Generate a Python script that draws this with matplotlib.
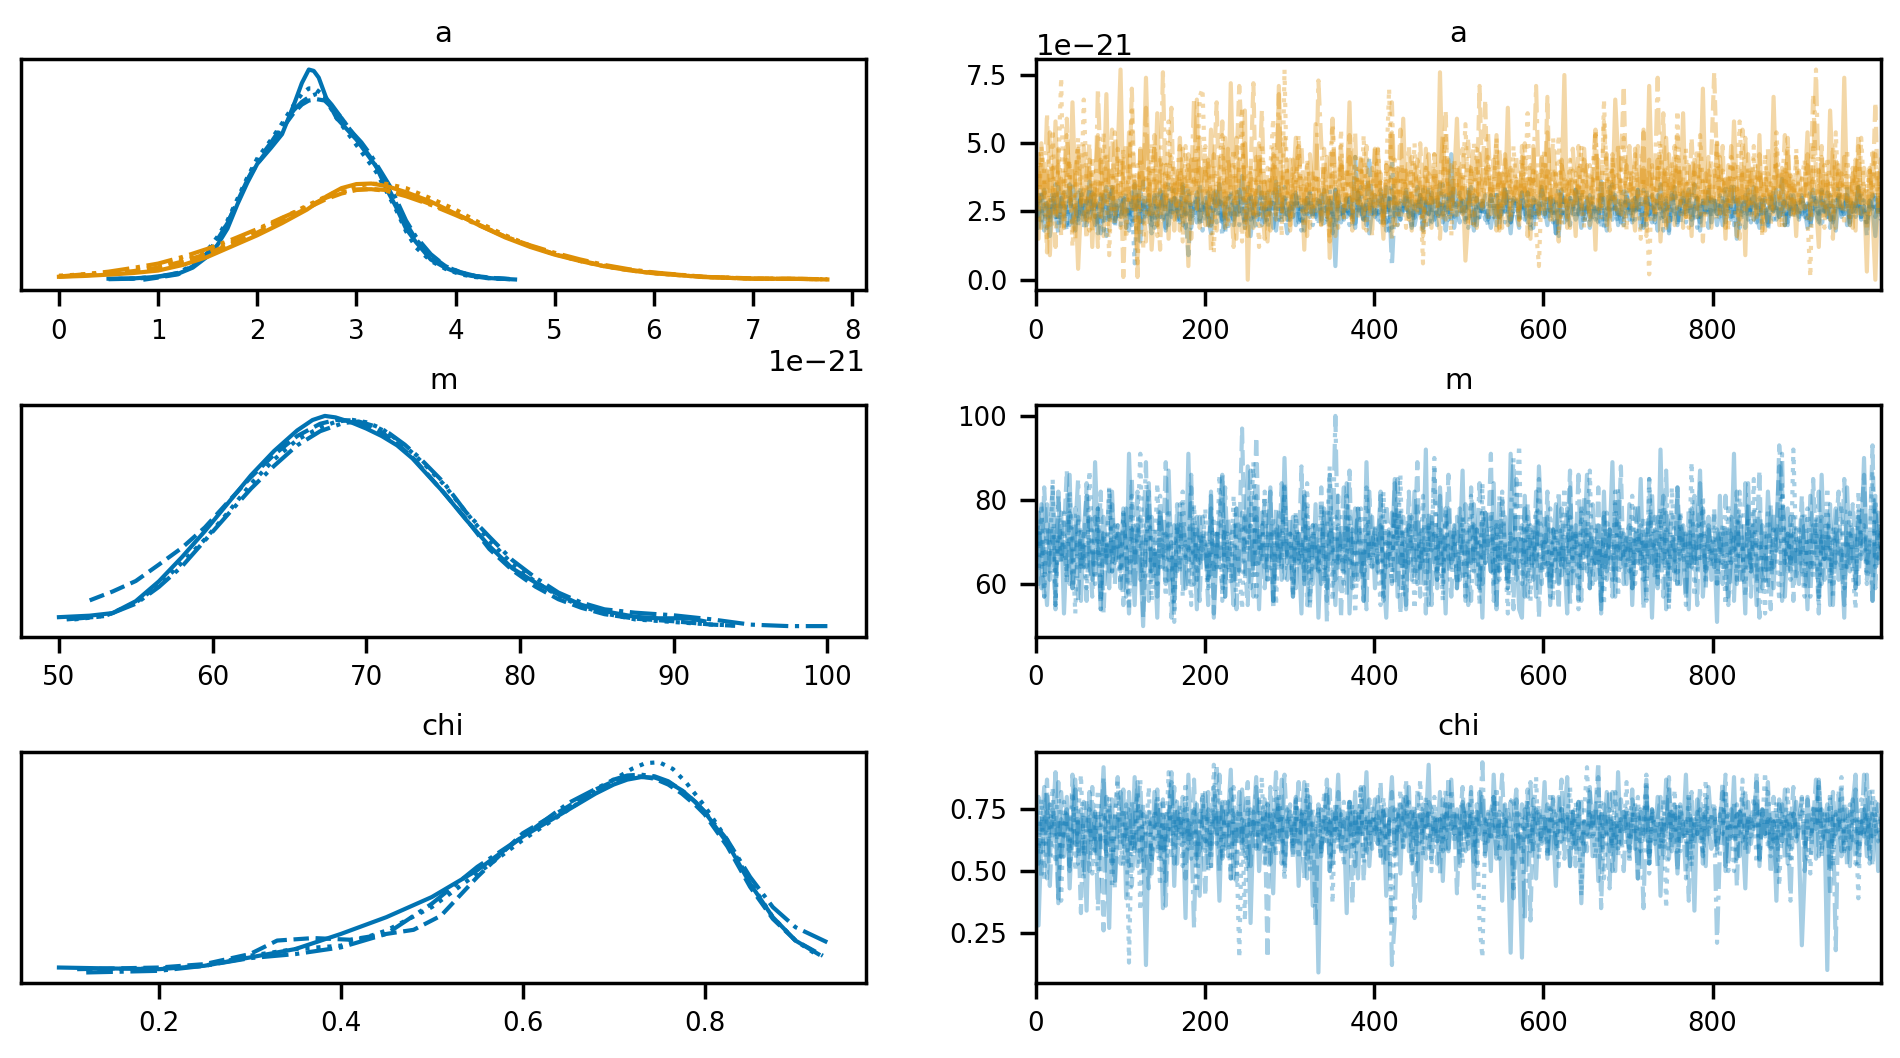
import numpy as np
import matplotlib
matplotlib.use("Agg")
import matplotlib.pyplot as plt

BLUE = "#0173b2"
ORANGE = "#de8f05"
LINESTYLES = ["-", "--", ":", "-."]
UNIT_A = 1e-21        # KDE x values of "a" are in units of 1e-21
UNIT_A_TRACE = 1e-22  # trace values of "a" are in units of 1e-22
UNIT_CHI_TRACE = 0.01 # trace values of "chi" are in hundredths

var_names = ["a", "m", "chi"]
n_draws = 1000

# ---------------- KDE curves (per chain) ----------------
a0_kde_x = [
    [0.5,0.75,1.0,1.2,1.35,1.5,1.6,1.7,1.8,1.9,2.0,2.14,2.25,2.37,2.45,2.52,2.57,2.62,2.7,2.8,2.9,3.0,3.1,3.2,3.3,3.4,3.5,3.6,3.75,3.9,4.0,4.15,4.3,4.6],
    [0.85,1.0,1.2,1.35,1.5,1.6,1.7,1.8,1.9,2.0,2.14,2.25,2.37,2.45,2.52,2.6,2.68,2.75,2.85,2.95,3.05,3.15,3.25,3.35,3.5,3.6,3.75,3.9,4.05,4.2,4.4,4.6],
    [0.6,0.8,1.0,1.2,1.35,1.5,1.6,1.7,1.8,1.9,2.0,2.14,2.25,2.37,2.45,2.52,2.58,2.65,2.72,2.8,2.9,3.0,3.1,3.2,3.3,3.4,3.5,3.6,3.75,3.9,4.05,4.2,4.35,4.5],
    [0.5,0.75,1.0,1.2,1.35,1.5,1.6,1.7,1.8,1.9,2.0,2.14,2.25,2.37,2.45,2.53,2.6,2.68,2.75,2.85,2.95,3.05,3.15,3.25,3.35,3.5,3.6,3.75,3.9,4.05,4.2,4.35,4.55],
]
a0_kde_y = [
    [0.004,0.005,0.011,0.022,0.045,0.087,0.13,0.19,0.28,0.36,0.43,0.49,0.54,0.65,0.73,0.78,0.775,0.75,0.67,0.60,0.56,0.52,0.47,0.42,0.34,0.27,0.19,0.14,0.075,0.044,0.029,0.015,0.007,0.001],
    [0.0,0.008,0.02,0.05,0.10,0.15,0.21,0.29,0.37,0.43,0.50,0.56,0.62,0.65,0.665,0.67,0.665,0.64,0.60,0.55,0.50,0.45,0.39,0.32,0.21,0.15,0.09,0.05,0.027,0.014,0.006,0.002],
    [0.003,0.005,0.01,0.025,0.055,0.11,0.16,0.22,0.30,0.38,0.45,0.52,0.58,0.65,0.69,0.71,0.71,0.69,0.65,0.60,0.55,0.50,0.45,0.40,0.33,0.26,0.18,0.12,0.07,0.04,0.02,0.01,0.005,0.002],
    [0.002,0.004,0.012,0.025,0.05,0.10,0.15,0.21,0.29,0.37,0.44,0.51,0.57,0.63,0.66,0.68,0.69,0.68,0.65,0.60,0.55,0.51,0.46,0.40,0.34,0.22,0.16,0.095,0.05,0.028,0.014,0.006,0.002],
]
a1_kde_x_grid = [0,0.25,0.5,0.75,1,1.25,1.5,1.75,2,2.25,2.5,2.7,2.85,3.0,3.15,3.3,3.5,3.75,4,4.25,4.5,4.75,5,5.25,5.5,5.75,6,6.5,7,7.5]
a1_kde_x_end = [7.75, 7.7, 7.7, 7.75]
a1_kde_y = [
    [0.011,0.014,0.019,0.025,0.034,0.055,0.085,0.125,0.165,0.21,0.26,0.31,0.34,0.355,0.357,0.348,0.325,0.29,0.245,0.2,0.157,0.122,0.093,0.07,0.05,0.035,0.024,0.01,0.004,0.003,0.001],
    [0.012,0.016,0.022,0.032,0.045,0.068,0.097,0.135,0.175,0.22,0.265,0.30,0.32,0.333,0.337,0.333,0.315,0.28,0.245,0.202,0.16,0.125,0.095,0.072,0.052,0.037,0.026,0.011,0.005,0.003,0.002],
    [0.015,0.02,0.026,0.036,0.05,0.074,0.103,0.14,0.182,0.228,0.275,0.31,0.335,0.348,0.356,0.356,0.34,0.302,0.26,0.21,0.165,0.127,0.095,0.07,0.05,0.035,0.024,0.01,0.004,0.003,0.002],
    [0.012,0.02,0.03,0.044,0.06,0.085,0.115,0.15,0.188,0.23,0.27,0.305,0.325,0.335,0.336,0.33,0.31,0.278,0.24,0.2,0.16,0.128,0.1,0.076,0.055,0.039,0.027,0.011,0.004,0.003,0.002],
]
m_kde_x = [
    [50,52,53.5,55,56.5,58,59.5,61,62.5,64,65.5,66.5,67.3,68,69,70,71,72,73,74,75,76.5,78,79.5,81,82.5,84,85.5,87.5,89,90,91,92],
    [52,53.5,55,56.5,58,59.5,61,62.5,64,65.5,67,68,69,70,71,72,73,74,75,76.5,78,79.5,81,82.5,84,85.5,87.5,90,92.5,94],
    [51,53,55,56.5,58,59.5,61,62.5,64,65.5,67,68,69,70,71,72,73,74,75,76.5,78,79.5,81,82.5,84,85.5,87.5,90,92.5,94],
    [50.5,53,55,56.5,58,59.5,61,62.5,64,65.5,67,68.5,69.5,70.5,71.5,72.5,73.5,75,76.5,78,79.5,81,82.5,84,85.5,87.5,90,92.5,95,97.5,100],
]
m_kde_y = [
    [0.0029,0.0033,0.004,0.0072,0.0125,0.019,0.026,0.0335,0.041,0.0475,0.053,0.0558,0.0569,0.0565,0.0552,0.0535,0.0515,0.049,0.0455,0.041,0.0365,0.029,0.022,0.016,0.0122,0.009,0.0062,0.0045,0.003,0.0026,0.0026,0.0026,0.0018],
    [0.0074,0.0098,0.0126,0.017,0.0215,0.027,0.0338,0.0405,0.0465,0.0515,0.0548,0.0558,0.0557,0.0545,0.0525,0.0495,0.0458,0.0412,0.0365,0.0292,0.0212,0.0155,0.0111,0.0077,0.0054,0.0037,0.0025,0.0018,0.0009,0.0006],
    [0.0023,0.0032,0.0068,0.0115,0.0175,0.0238,0.031,0.0387,0.0452,0.0505,0.0538,0.0553,0.0559,0.0552,0.0535,0.0505,0.047,0.043,0.0387,0.031,0.0235,0.0172,0.0124,0.0086,0.0058,0.0039,0.0023,0.0016,0.0009,0.0007],
    [0.0023,0.0032,0.0065,0.011,0.0165,0.0235,0.0305,0.0374,0.0435,0.049,0.0528,0.055,0.0554,0.0542,0.0522,0.0492,0.0455,0.0392,0.031,0.0245,0.0182,0.0135,0.0095,0.0068,0.005,0.0041,0.0034,0.0023,0.0009,0.0005,0.0005],
]
chi_kde_x = [
    [0.09,0.15,0.2,0.25,0.3,0.35,0.4,0.45,0.5,0.55,0.6,0.65,0.68,0.7,0.715,0.73,0.745,0.76,0.775,0.79,0.8,0.825,0.85,0.875,0.9,0.925],
    [0.11,0.2,0.25,0.3,0.33,0.37,0.41,0.45,0.48,0.51,0.55,0.6,0.65,0.68,0.7,0.715,0.73,0.745,0.76,0.775,0.79,0.8,0.825,0.85,0.875,0.9,0.93],
    [0.12,0.2,0.25,0.3,0.35,0.4,0.45,0.5,0.55,0.6,0.65,0.7,0.72,0.735,0.75,0.765,0.78,0.8,0.825,0.85,0.875,0.9,0.925],
    [0.12,0.2,0.25,0.3,0.35,0.4,0.45,0.5,0.55,0.6,0.65,0.7,0.715,0.73,0.745,0.76,0.78,0.8,0.825,0.85,0.875,0.9,0.935],
]
chi_kde_y = [
    [0.093,0.081,0.073,0.114,0.215,0.317,0.5,0.703,0.947,1.272,1.679,2.004,2.2,2.31,2.37,2.40,2.395,2.34,2.24,2.1,1.98,1.6,1.11,0.703,0.419,0.256],
    [0.073,0.093,0.134,0.256,0.42,0.45,0.43,0.50,0.55,0.72,1.19,1.72,2.045,2.25,2.35,2.40,2.41,2.38,2.31,2.2,2.06,1.95,1.56,1.07,0.683,0.419,0.236],
    [0.073,0.081,0.114,0.236,0.317,0.358,0.541,0.825,1.232,1.638,2.004,2.37,2.5,2.57,2.58,2.5,2.33,2.05,1.638,1.13,0.703,0.419,0.236],
    [0.033,0.053,0.114,0.207,0.256,0.337,0.5,0.866,1.313,1.679,2.085,2.37,2.42,2.43,2.41,2.35,2.2,1.984,1.638,1.191,0.825,0.581,0.398],
]

# ---------------- Trace values (per chain, thinned draws) ----------------
a0_trace_txt = [
"""26 19 31 24 28 16 29 23 34 21 27 20 30 25 18 32 24 29 22 36 25 20 28 17 31 26 23 33 21 27
24 30 19 28 22 35 26 14 29 24 31 22 27 20 33 25 18 29 23 30 26 21 34 24 28 19 27 32 22 25
30 23 17 29 26 35 21 28 24 31 20 27 25 38 22 29 16 26 30 24 28 21 32 25 19 27 34 23 29 22
26 31 20 28 24 18 30 25 27 23 29 22 33 26 20 28 5 31 24 27 23 30 25 19 32 27 22 29 17 26
31 24 28 21 34 26 19 30 25 22 27 33 23 29 20 25 31 18 28 24 30 22 26 35 21 28 24 46 19 27
25 29 21 32 26 18 30 23 28 25 22 31 27 20 29 24 33 26 17 30 28 23 32 25 21 27 19 29 24 34
26 20 30 23 28 16 31 25 22 29 24 33 27 19 26 30 22 28 25 21 36 24 18 29 26 31 20 27 23 32
22 28 25 33 19 27 30 24 21 29 26 35 23 28 17 31 25 20 27 32 24 29 22 26 30 18 28 25 33 21
29 24 27 20 32 26 23 30 15 28 25 31 22 27 34 24 19 29 26 21 30 25 28 23 37 20 27 24 31 26
23 30 26 19 28 33 24 21 29 25 32 22 27 18 30 26 24 31 20 28 25 34 23 27 21 29 26 16 30 24""",
"""23 29 20 33 26 21 30 24 17 28 32 25 20 35 27 22 30 19 26 33 24 28 21 31 25 16 29 34 22 27
30 23 26 18 32 25 29 21 36 24 27 20 31 26 23 33 19 28 25 30 22 27 35 24 9 29 26 31 21 28
24 32 20 27 34 25 22 30 18 26 29 23 33 26 20 28 31 24 19 27 32 25 21 30 26 36 22 28 24 17
29 26 32 21 27 24 30 23 28 25 20 31 26 23 29 17 33 25 28 22 30 24 27 19 32 26 21 29 45 24
27 22 31 25 18 29 33 24 20 28 25 30 23 27 21 34 26 19 29 24 32 26 20 28 24 31 22 27 35 25
21 29 25 33 27 19 30 24 28 22 26 31 23 28 20 27 34 25 21 29 24 19 30 26 32 23 28 21 27 33
29 25 22 31 17 28 24 30 26 20 27 33 24 29 21 26 31 23 28 25 19 30 25 34 22 27 24 29 20 32
26 22 30 25 28 19 33 24 27 21 31 26 23 29 18 27 32 24 20 30 25 28 22 35 26 21 29 24 31 23
28 20 26 31 24 29 22 34 25 19 27 30 23 26 32 21 28 24 30 18 26 33 22 27 25 29 20 31 24 27
25 31 23 28 20 26 30 22 33 24 27 19 29 25 31 23 26 34 21 28 24 30 22 27 16 29 25 32 23 26""",
"""28 22 32 25 19 30 26 35 21 27 24 18 31 26 29 22 34 25 20 28 32 23 27 30 18 26 33 21 29 24
20 31 27 23 29 6 32 25 28 22 30 24 19 33 26 21 29 36 23 27 25 30 20 28 34 24 22 31 26 18
29 23 32 25 21 27 30 17 28 33 24 26 20 31 27 35 22 29 25 21 27 32 19 26 30 23 28 20 34 25
22 29 26 31 18 27 24 32 20 26 30 25 28 22 33 24 19 29 27 23 31 20 26 29 24 34 22 28 25 30
23 27 21 32 26 18 44 25 29 22 28 24 31 20 27 30 23 33 26 19 25 29 22 27 35 24 30 21 28 26
32 23 28 19 26 31 25 22 29 24 20 30 26 33 23 28 21 27 31 25 29 22 27 24 32 17 30 26 23 28
24 31 25 21 28 34 22 29 26 30 27 23 33 26 20 28 25 31 22 26 30 19 27 24 32 25 21 29 34 23
27 21 30 24 28 33 20 26 31 23 29 25 18 30 27 22 34 26 24 29 21 28 32 25 19 27 30 23 26 31
25 30 22 28 35 24 27 20 31 26 23 29 33 21 28 25 30 19 27 24 32 22 26 29 25 20 31 27 23 28
30 24 27 21 33 26 29 23 19 28 25 31 22 27 34 24 26 30 21 29 23 27 32 25 20 28 26 30 24 22""",
"""24 31 27 18 29 23 33 26 20 30 25 28 35 21 26 19 32 24 29 22 27 31 17 25 28 34 22 26 19 30
23 27 32 24 20 29 26 34 21 28 25 17 30 23 27 31 24 20 29 33 26 22 28 19 31 25 27 21 35 24
28 20 26 32 23 29 16 27 30 24 22 33 25 28 19 26 31 23 27 34 20 29 24 26 32 18 28 25 30 22
27 23 31 25 20 29 26 33 24 28 31 24 19 27 29 22 33 26 21 28 25 30 22 45 27 24 29 20 31 26
23 28 33 25 21 30 5 27 24 29 26 32 24 19 28 25 31 22 27 34 21 27 30 24 29 18 26 32 23 28
30 25 22 28 34 26 20 29 25 31 24 19 27 31 23 28 25 33 21 26 29 26 32 22 27 20 30 24 28 25
23 31 25 29 17 27 33 21 26 30 28 22 26 32 24 29 19 27 25 23 31 26 22 28 35 24 29 21 27 30
26 29 22 33 25 20 28 31 24 27 18 30 25 28 23 32 26 21 29 24 27 33 20 26 30 23 28 25 19 31
29 24 31 26 21 28 34 23 27 30 25 19 32 26 22 29 24 31 27 20 28 25 33 23 26 30 21 28 24 27
22 30 25 28 19 31 26 24 33 27 23 29 21 26 31 24 28 20 30 25 27 34 22 29 24 26 31 23 28 25""",
]
a1_trace_txt = [
"""35 15 50 26 40 9 31 58 23 37 19 44 28 65 33 4 27 49 22 41 12 36 53 24 31 68 18 40 26 46
77 29 19 54 26 36 6 48 33 74 39 11 28 61 31 22 42 15 35 35 27 49 20 37 5 44 33 66 19 31
41 24 55 29 18 36 27 52 22 72 32 15 44 28 62 0 39 19 33 50 26 36 14 31 46 24 71 29 22 40
18 33 52 27 37 11 42 28 23 57 35 20 29 45 8 39 16 33 49 27 31 65 22 37 28 44 19 35 26 41
24 48 29 15 36 27 54 20 39 31 59 26 33 18 42 28 37 23 48 29 19 40 27 76 32 22 44 26 36 59
28 37 7 23 41 29 19 46 27 35 42 24 33 53 18 39 28 63 22 31 36 20 45 27 37 15 49 29 24 40
26 54 31 22 39 27 33 75 19 36 32 16 41 26 48 29 23 37 11 44 27 35 20 39 29 66 45 24 33 40
49 28 18 37 31 55 24 71 35 22 41 14 32 52 27 39 20 45 29 61 23 36 16 44 28 33 70 26 40 19
31 50 24 36 15 42 27 58 33 22 39 9 46 28 35 23 53 18 37 29 26 67 32 20 41 27 48 24 36 16
40 26 33 54 22 37 28 12 45 31 24 62 35 19 42 27 74 29 23 39 18 49 28 33 3 41 24 0 32 44""",
"""28 46 19 37 10 54 32 24 42 16 36 59 27 41 15 48 29 22 39 50 18 35 12 44 29 26 40 55 20 33
45 1 37 28 70 31 16 49 35 14 41 24 53 32 11 42 27 36 63 22 39 18 48 29 46 15 37 26 52 32
20 44 10 40 65 28 35 19 48 31 12 41 71 50 33 16 39 72 23 45 29 15 36 27 42 22 33 26 52 37
20 44 27 36 49 28 35 19 40 24 37 19 48 29 14 57 32 26 44 23 35 53 18 39 28 46 24 41 31 16
49 27 36 20 42 32 15 37 26 55 28 40 22 45 31 24 50 33 19 39 27 46 32 15 37 62 26 42 29 22
41 24 35 52 19 39 28 71 33 66 23 37 29 18 48 27 44 20 36 31 45 26 33 50 16 37 28 41 23 46
29 67 22 39 32 14 44 27 36 19 40 28 49 24 35 42 20 31 53 33 26 58 37 18 46 29 23 41 71 27
35 22 48 31 26 54 16 40 33 24 44 28 61 20 37 29 49 26 41 19 36 27 52 32 23 42 14 39 28 46
76 40 31 49 19 37 27 44 33 15 55 29 26 41 22 36 46 28 18 39 32 24 48 29 40 20 52 27 35 23
24 31 26 42 33 68 39 28 49 22 36 29 15 45 27 37 33 28 20 41 28 53 24 35 18 40 31 65 26 36""",
"""31 22 49 39 14 33 55 24 41 74 19 37 44 12 29 52 27 66 35 18 45 26 36 23 54 32 9 40 23 48
29 48 15 37 62 20 42 31 11 39 28 50 33 16 45 36 24 58 29 42 22 40 14 49 31 26 46 36 67 70
37 44 28 10 41 32 53 23 19 35 48 27 39 63 18 33 42 24 36 12 50 31 22 41 59 28 37 16 77 29
23 40 33 49 27 19 44 35 26 39 33 24 42 31 15 48 36 27 55 22 41 29 20 45 35 26 53 18 37 31
27 49 32 23 40 70 28 44 20 36 42 19 39 29 50 24 33 6 41 27 31 46 26 37 22 54 32 16 44 35
24 36 57 28 40 20 48 29 26 39 45 27 33 52 19 37 29 41 23 49 33 22 42 31 61 26 40 18 5 36
48 29 24 41 33 53 20 37 28 44 26 39 32 49 19 35 42 27 55 31 22 66 36 28 45 24 40 33 52 18
40 26 46 32 15 37 28 2 42 23 35 50 27 39 20 44 29 62 24 36 48 19 31 41 26 53 33 22 37 28
32 52 23 40 29 18 45 36 27 58 33 24 41 22 49 31 39 16 46 28 37 26 54 35 19 42 29 40 23 48
28 37 44 22 1 50 26 40 31 19 45 36 24 54 29 39 20 48 27 35 41 23 52 32 33 40 29 46 24 36""",
"""37 27 45 29 61 20 41 12 48 32 24 53 36 18 40 49 28 33 15 44 35 23 70 39 16 46 31 26 54 36
19 41 50 29 27 37 1 44 33 63 24 40 48 20 33 76 28 39 45 18 36 52 29 23 42 35 66 26 41 31
49 19 37 46 27 40 58 22 44 36 28 52 33 14 50 29 39 23 45 35 62 26 41 18 48 32 68 24 40 29
44 22 37 53 28 36 16 46 33 27 73 50 31 23 39 59 35 19 42 37 26 45 29 54 22 40 33 49 24 31
48 28 39 19 42 36 65 27 41 22 37 32 49 29 26 44 35 16 40 46 28 39 24 36 53 31 41 23 33 42
27 48 32 20 40 50 29 37 26 36 54 31 44 24 39 19 46 35 41 29 37 22 49 33 27 42 36 71 32 45
24 40 28 52 35 18 42 37 23 39 48 29 36 27 44 33 24 41 55 26 37 31 46 22 40 28 50 33 19 42
31 39 27 49 33 41 22 44 29 36 74 26 40 19 46 32 37 53 28 35 23 42 31 39 48 24 36 29 45 27
40 22 45 31 37 27 49 33 16 41 29 52 26 36 44 24 40 32 28 48 20 37 42 29 33 53 26 39 23 45
28 37 31 46 24 41 77 33 27 42 36 22 49 31 40 26 45 29 37 19 44 33 28 41 35 24 48 31 39 27""",
]
m_trace_txt = [
"""74 60 79 65 55 72 83 63 69 77 53 70 86 59 66 76 56 73 81 64 61 89 69 54 76 68 59 82 65 72
63 78 57 91 70 55 74 66 50 73 84 61 68 52 77 70 60 87 65 56 74 69 79 59 91 64 72 54 76 66
70 60 82 52 68 76 86 57 72 65 55 78 63 73 69 88 59 66 81 54 74 64 70 83 56 68 77 61 90 65
72 57 76 68 53 82 64 73 60 79 52 69 77 59 86 66 55 74 70 63 84 53 69 78 61 72 56 89 65 76
59 70 81 63 52 73 68 85 57 77 65 54 74 69 82 60 72 64 92 55 76 66 61 83 70 53 78 64 73 59
68 87 56 74 65 79 60 70 52 77 69 63 84 55 73 66 76 59 91 65 70 54 52 81 61 74 68 57 88 72
64 76 55 69 79 60 73 66 53 83 63 72 56 77 68 86 59 70 65 74 54 82 61 70 89 57 76 64 69 60
79 55 72 65 85 61 69 76 52 73 59 92 66 77 56 70 63 83 60 74 68 54 78 65 72 87 57 69 76 61
70 51 81 64 73 57 66 91 60 76 69 53 84 63 72 55 77 66 61 82 70 59 74 88 56 68 78 63 72 65
60 76 69 54 81 64 72 57 86 66 74 55 70 78 61 68 52 83 65 73 59 76 69 90 63 70 56 79 66 73""",
"""66 77 59 83 70 61 74 54 81 65 72 87 60 69 78 56 73 64 84 68 57 76 66 82 53 70 63 79 60 74
69 55 78 65 85 59 72 76 52 68 82 63 73 57 77 66 89 61 70 54 79 64 74 69 59 83 65 73 56 76
68 61 81 53 72 64 86 57 76 69 60 78 70 97 65 55 74 63 95 68 77 59 70 82 54 73 65 84 61 69
76 57 72 66 88 60 78 55 70 74 63 83 65 56 77 69 61 81 52 73 66 87 59 70 78 63 68 54 82 64
72 65 74 56 79 68 60 84 70 53 76 64 82 61 69 89 57 73 66 77 55 72 63 81 60 70 86 65 74 59
78 61 69 55 83 66 73 59 77 65 70 91 56 76 63 81 68 60 72 54 85 64 74 57 79 69 61 77 52 70
65 82 60 73 68 54 78 64 70 87 59 74 66 56 81 63 72 69 61 83 53 76 65 73 57 79 68 88 60 72
74 59 68 79 63 70 56 85 65 76 60 72 81 54 69 77 61 83 66 73 57 78 64 70 55 84 69 63 74 66
78 60 72 65 65 55 76 68 82 61 70 64 79 57 74 69 87 59 73 65 54 77 68 93 83 70 63 76 56 73
66 81 59 70 64 85 69 53 76 61 78 68 57 73 82 65 55 72 63 79 69 60 74 86 65 70 93 59 77 68""",
"""70 63 79 57 74 66 85 55 72 65 77 60 82 69 53 76 64 73 59 87 68 61 78 56 72 66 83 63 74 69
60 77 68 54 81 65 72 91 61 70 76 56 66 84 64 73 57 78 69 51 74 63 82 65 70 55 79 61 72 68
78 59 69 76 64 86 56 73 66 60 81 70 63 54 77 68 74 89 57 72 65 82 61 69 76 55 73 64 83 66
72 57 77 65 70 61 84 54 74 68 63 79 60 72 88 56 76 66 70 59 81 64 73 53 69 78 61 83 68 63
74 66 55 82 64 72 60 77 69 86 57 73 65 76 54 70 63 81 59 74 68 90 61 72 56 78 65 69 73 60
66 76 57 70 81 63 73 55 84 65 69 77 59 74 61 82 68 53 72 64 79 93 60 70 76 56 73 65 85 63
70 61 78 56 73 68 64 83 59 76 66 72 54 79 63 69 87 60 74 65 70 55 77 68 61 82 57 73 66 72
63 81 60 72 65 76 56 85 68 70 61 78 64 73 54 83 69 59 76 66 72 63 89 57 74 65 81 60 70 64
77 59 69 74 55 79 65 72 61 82 68 57 76 64 85 60 70 66 53 78 63 73 69 56 81 65 72 61 92 68
73 64 57 78 69 61 76 55 72 66 83 60 74 65 70 79 59 68 77 63 54 82 66 73 60 70 87 64 69 74""",
"""65 74 68 57 79 63 72 55 82 66 70 61 77 59 73 85 64 69 56 76 68 60 78 54 72 65 83 63 70 74
59 77 68 53 73 65 82 61 70 89 56 76 66 60 81 64 72 69 52 74 63 79 57 70 68 86 60 76 65 72
69 55 78 63 73 66 59 83 64 70 74 54 68 77 61 72 87 57 76 65 69 81 60 73 56 78 64 70 84 61
66 76 59 72 65 81 55 70 74 63 69 60 78 51 73 68 100 64 72 83 57 76 66 61 79 69 56 74 65 70
73 63 82 57 70 66 77 60 85 65 72 55 76 69 61 79 64 70 53 74 68 88 59 73 63 78 66 57 72 76
61 70 79 65 56 74 68 84 60 77 69 63 73 54 81 65 70 59 76 90 61 72 66 78 57 73 64 82 68 60
76 66 57 73 64 82 61 70 78 55 72 68 86 63 69 74 59 79 65 70 56 77 63 73 68 60 83 66 72 64
70 59 78 68 74 54 73 65 82 61 76 69 57 87 64 72 66 60 77 70 55 74 65 81 63 69 78 59 73 68
64 73 69 60 81 65 72 56 76 68 61 84 70 63 78 66 52 74 69 59 79 64 73 68 91 57 72 65 76 61
72 63 77 66 57 74 69 82 60 70 65 79 55 73 68 63 85 64 72 69 59 78 66 74 61 70 56 81 65 73""",
]
chi_trace_txt = [
"""73 28 64 84 47 77 68 90 37 71 56 80 43 70 87 53 75 64 34 82 61 74 50 68 92 55 27 79 46 71
64 83 39 75 59 88 52 74 65 12 70 49 82 58 77 35 73 67 86 44 78 61 71 31 89 55 75 65 40 80
62 73 52 84 68 38 78 59 70 91 47 74 64 83 56 75 29 70 88 50 67 79 58 73 41 82 64 87 53 71
74 61 79 44 70 86 55 77 36 67 9 75 62 83 50 73 65 89 58 70 33 78 61 82 47 74 68 90 52 71
65 80 56 75 40 70 88 59 73 49 79 64 84 53 74 61 38 77 68 93 55 71 62 82 46 73 58 87 65 75
52 78 70 59 84 43 74 65 80 56 73 50 89 64 70 38 77 59 17 71 83 53 15 75 67 58 79 47 73 64
86 55 75 68 44 80 62 71 88 52 74 59 78 37 70 65 84 56 77 46 73 64 82 58 70 50 90 61 74 67
56 79 70 47 75 64 87 53 73 61 80 40 71 67 83 58 77 49 74 65 89 55 71 34 79 62 73 52 84 68
75 59 70 82 50 73 64 88 55 74 67 43 78 61 71 86 52 75 65 82 56 70 38 77 62 83 53 73 68 78
59 20 49 80 65 75 55 86 68 73 10 79 61 74 64 83 58 71 52 77 89 53 67 75 56 82 64 73 50 70""",
"""61 80 47 71 87 55 75 67 39 82 64 73 52 89 59 70 33 78 68 50 84 58 74 62 26 80 65 53 71 88
53 75 64 82 44 70 86 56 77 61 43 73 68 83 58 79 36 70 90 53 74 64 80 47 71 61 87 55 75 67
40 82 59 71 93 50 77 64 56 83 68 46 78 62 73 86 52 70 59 79 65 74 15 84 58 71 78 53 89 64
70 55 80 61 73 47 83 67 75 28 77 56 70 87 50 74 64 82 58 71 67 78 37 73 62 84 46 70 79 59
71 61 86 52 75 65 82 56 70 77 58 80 68 74 31 83 62 73 55 78 75 64 71 49 79 59 88 67 74 41
70 84 58 77 65 73 52 82 61 71 62 74 80 55 70 89 59 75 67 43 79 58 71 64 83 30 74 68 77 61
68 77 56 80 61 71 87 55 73 65 74 52 78 62 70 58 82 67 75 94 35 73 64 83 50 71 59 79 67 75
58 70 78 47 74 65 84 53 75 62 71 80 55 68 88 59 73 50 77 64 70 38 82 61 74 67 56 79 64 73
75 59 70 86 52 71 65 78 44 74 62 83 56 73 68 90 53 75 64 71 49 80 61 70 77 55 74 67 84 62
67 74 50 79 64 70 87 56 75 61 73 40 82 65 71 58 78 52 74 68 83 59 70 64 89 53 73 65 77 68""",
"""70 58 79 46 74 64 84 53 71 38 78 67 59 82 50 73 89 56 68 75 49 65 83 61 74 55 80 43 70 87
62 52 77 13 67 58 82 34 73 64 84 53 75 68 44 79 59 90 55 71 65 77 52 86 61 70 74 41 67 82
58 75 50 93 64 73 55 78 68 47 84 61 15 71 30 80 65 74 58 70 88 52 77 64 73 56 82 67 46 75
70 59 79 55 74 67 86 50 71 64 75 56 82 62 70 37 78 59 73 52 68 79 58 74 64 84 53 71 61 77
67 74 55 80 62 70 28 75 65 83 59 71 78 53 73 64 87 56 70 75 50 80 62 71 58 77 68 83 61 73
70 53 75 64 82 59 71 29 15 67 74 62 70 84 55 73 65 77 78 80 64 75 52 70 79 61 71 88 55 74
71 58 82 65 73 52 77 62 70 84 61 78 68 40 74 92 64 73 55 70 79 47 67 75 59 82 56 71 65 86
53 74 64 80 58 70 89 49 75 67 71 59 79 35 73 64 83 56 77 68 61 82 52 71 65 75 58 87 67 70
78 56 73 65 82 61 70 50 77 67 87 58 71 64 80 53 74 68 90 59 71 62 78 44 73 67 83 55 75 64
65 80 59 71 49 77 68 86 56 74 64 82 52 73 67 88 58 70 77 61 71 39 79 64 74 55 83 68 62 73""",
"""77 53 70 61 82 44 73 65 86 56 68 75 50 64 83 58 71 47 79 67 59 74 34 70 88 55 77 64 43 73
82 61 68 52 78 58 71 87 49 67 74 55 62 80 56 70 46 75 65 84 53 73 64 79 59 68 27 77 58 71
83 50 67 74 61 89 55 70 78 47 73 64 82 58 68 52 75 65 84 59 71 59 79 53 67 90 62 74 50 67
77 56 70 86 64 73 47 80 61 68 75 58 71 65 83 53 74 62 70 78 59 68 77 52 73 64 84 56 70 65
79 61 67 74 55 71 12 30 75 64 70 87 58 68 77 50 73 64 80 59 67 75 53 71 62 83 59 70 65 74
56 78 68 61 73 52 77 67 94 58 70 64 80 55 74 65 71 59 78 39 68 61 77 30 71 86 58 75 67 62
73 55 70 79 59 68 75 64 71 52 74 61 70 78 58 67 73 64 70 88 56 77 65 43 82 61 71 68 50 75
64 83 59 73 67 35 79 56 75 68 52 71 62 87 55 74 65 78 58 70 47 80 61 71 65 84 53 74 67 59
70 21 58 68 89 50 75 64 73 56 82 61 71 71 67 77 55 74 65 86 59 70 49 79 62 73 68 38 75 64
71 80 61 55 55 74 67 87 58 70 77 50 73 18 83 56 68 75 59 79 53 71 65 89 61 73 52 78 68 62""",
]

a0_trace = [np.array(t.split(), dtype=float) for t in a0_trace_txt]
a1_trace = [np.array(t.split(), dtype=float) for t in a1_trace_txt]
m_trace = [np.array(t.split(), dtype=float) for t in m_trace_txt]
chi_trace = [np.array(t.split(), dtype=float) for t in chi_trace_txt]

# ---------------- styling ----------------
TICK_FS = 18.7
plt.rcParams.update({
    "font.family": ["DejaVu Sans"],
    "font.size": 21,
    "axes.linewidth": 2.5,
    "xtick.major.size": 11.5,
    "ytick.major.size": 11.5,
    "xtick.major.width": 2.5,
    "ytick.major.width": 2.5,
    "xtick.major.pad": 9,
    "ytick.major.pad": 9,
    "xtick.labelsize": 21,
    "ytick.labelsize": 21,
    "axes.titlesize": 21,
    "axes.titlepad": 12,
})
LW = 3.0

fig, axes = plt.subplots(3, 2, figsize=(19, 10.58), dpi=100)
fig.subplots_adjust(left=0.0108, right=0.99, top=0.9442, bottom=0.0709, wspace=0.201, hspace=0.498)


def draw_kde(ax, xs, ys, color, scale=1.0):
    for c, (x, y) in enumerate(zip(xs, ys)):
        ax.plot(np.asarray(x) * scale, y, color=color, ls=LINESTYLES[c], lw=LW)


def draw_trace(ax, chains, color, scale=1.0):
    for c, vals in enumerate(chains):
        v = np.asarray(vals, dtype=float) * scale
        x = np.linspace(0, n_draws - 1, len(v))
        ax.plot(x, v, color=color, ls=LINESTYLES[c], lw=LW, alpha=0.35)


a1_kde_x = [a1_kde_x_grid + [end] for end in a1_kde_x_end]

# row a
draw_kde(axes[0, 0], a0_kde_x, a0_kde_y, BLUE, UNIT_A)
draw_kde(axes[0, 0], a1_kde_x, a1_kde_y, ORANGE, UNIT_A)
axes[0, 0].set_xticks(np.arange(0, 9) * UNIT_A)
draw_trace(axes[0, 1], a0_trace, BLUE, UNIT_A_TRACE)
draw_trace(axes[0, 1], a1_trace, ORANGE, UNIT_A_TRACE)
axes[0, 1].set_yticks(np.array([0, 2.5, 5.0, 7.5]) * UNIT_A)

# row m
draw_kde(axes[1, 0], m_kde_x, m_kde_y, BLUE)
axes[1, 0].set_xticks([50, 60, 70, 80, 90, 100])
draw_trace(axes[1, 1], m_trace, BLUE)
axes[1, 1].set_yticks([60, 80, 100])

# row chi
draw_kde(axes[2, 0], chi_kde_x, chi_kde_y, BLUE)
axes[2, 0].set_xticks([0.2, 0.4, 0.6, 0.8])
draw_trace(axes[2, 1], chi_trace, BLUE, UNIT_CHI_TRACE)
axes[2, 1].set_yticks([0.25, 0.50, 0.75])

for r, name in enumerate(var_names):
    kax, tax = axes[r, 0], axes[r, 1]
    kax.set_yticks([])
    kax.set_title(name)
    tax.set_title(name)
    tax.set_xlim(0, n_draws - 1)
    tax.set_xticks([0, 200, 400, 600, 800])
    for ax in (kax, tax):
        ax.tick_params(labelsize=TICK_FS)

fig.savefig("out.png", dpi=100)
